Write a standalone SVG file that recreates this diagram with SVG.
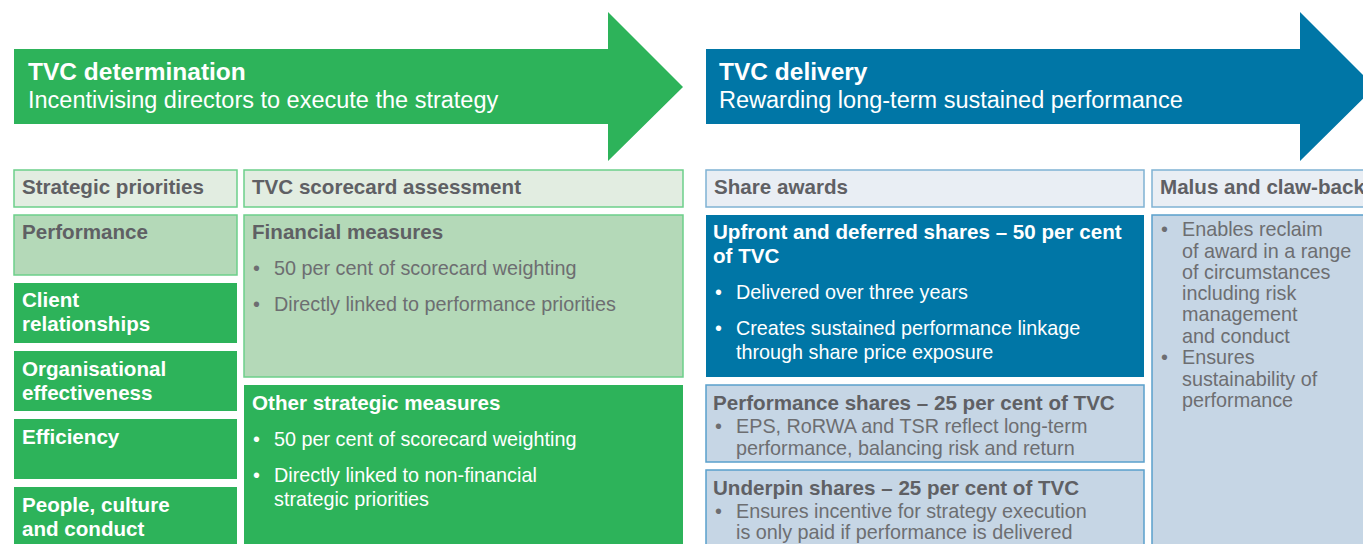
<svg xmlns="http://www.w3.org/2000/svg" width="1363" height="544" viewBox="0 0 1363 544">
<style>
.g{fill:#2db35a}
.gl{fill:#b4d9b8;stroke:#6ccf8a;stroke-width:1.5}
.gh{fill:#e2ede1;stroke:#6ccf8a;stroke-width:1.5}
.bh{fill:#e9eef4;stroke:#7fb2d3;stroke-width:1.5}
.bl{fill:#c6d6e5;stroke:#5aa0cc;stroke-width:1.5}
.b{fill:#0076a6}
text{font-family:"Liberation Sans",Arial,sans-serif}
.t1{font-size:24.5px;font-weight:bold;fill:#fff}
.t2{font-size:23.5px;fill:#fff}
.hd{font-size:20.6px;font-weight:bold;fill:#5f6064}
.hw{font-size:20.6px;font-weight:bold;fill:#fff}
.bd{font-size:19.8px;fill:#6d6e71}
.bw{font-size:19.8px;fill:#fff}
</style>
<rect width="1363" height="544" fill="#fff"/>
<g id="arrow-determination">
<polygon class="g" points="14,49 608,49 608,12 683,87 608,161 608,124 14,124"/>
<text class="t1" x="28" y="80">TVC determination</text>
<text class="t2" x="28" y="108">Incentivising directors to execute the strategy</text>
</g>
<g id="arrow-delivery">
<polygon class="b" points="706,49 1300,49 1300,12 1375,87 1300,161 1300,124 706,124"/>
<text class="t1" x="719" y="80">TVC delivery</text>
<text class="t2" x="719" y="108">Rewarding long-term sustained performance</text>
</g>
<g id="hdr-strategic">
<rect class="gh" x="14" y="170" width="223" height="37"/>
<text class="hd" x="22" y="194">Strategic priorities</text>
</g>
<g id="hdr-scorecard">
<rect class="gh" x="244" y="170" width="439" height="37"/>
<text class="hd" x="252" y="194">TVC scorecard assessment</text>
</g>
<g id="hdr-share">
<rect class="bh" x="706" y="170" width="438" height="37"/>
<text class="hd" x="714" y="194">Share awards</text>
</g>
<g id="hdr-malus">
<rect class="bh" x="1152" y="170" width="220" height="37"/>
<text class="hd" x="1160" y="194">Malus and claw-back</text>
</g>
<g id="performance">
<rect class="gl" x="14" y="215" width="223" height="60"/>
<text class="hd" x="22" y="239">Performance</text>
</g>
<g id="client">
<rect class="g" x="14" y="283" width="223" height="60"/>
<text class="hw" x="22" y="307">Client</text>
<text class="hw" x="22" y="331">relationships</text>
</g>
<g id="organisational">
<rect class="g" x="14" y="351" width="223" height="60"/>
<text class="hw" x="22" y="376">Organisational</text>
<text class="hw" x="22" y="400">effectiveness</text>
</g>
<g id="efficiency">
<rect class="g" x="14" y="419" width="223" height="60"/>
<text class="hw" x="22" y="444">Efficiency</text>
</g>
<g id="people">
<rect class="g" x="14" y="487" width="223" height="70"/>
<text class="hw" x="22" y="512">People, culture</text>
<text class="hw" x="22" y="536">and conduct</text>
</g>
<g id="financial">
<rect class="gl" x="244" y="215" width="439" height="162"/>
<text class="hd" x="252" y="239">Financial measures</text>
<text class="bd" x="253" y="275">•</text>
<text class="bd" x="274" y="275">50 per cent of scorecard weighting</text>
<text class="bd" x="253" y="311">•</text>
<text class="bd" x="274" y="311">Directly linked to performance priorities</text>
</g>
<g id="other">
<rect class="g" x="244" y="385" width="439" height="170"/>
<text class="hw" x="252" y="410">Other strategic measures</text>
<text class="bw" x="253" y="446">•</text>
<text class="bw" x="274" y="446">50 per cent of scorecard weighting</text>
<text class="bw" x="253" y="482">•</text>
<text class="bw" x="274" y="482">Directly linked to non-financial</text>
<text class="bw" x="274" y="506">strategic priorities</text>
</g>
<g id="upfront">
<rect class="b" x="706" y="215" width="438" height="162"/>
<text class="hw" x="713" y="239">Upfront and deferred shares – 50 per cent</text>
<text class="hw" x="713" y="263">of TVC</text>
<text class="bw" x="715" y="299">•</text>
<text class="bw" x="736" y="299">Delivered over three years</text>
<text class="bw" x="715" y="335">•</text>
<text class="bw" x="736" y="335">Creates sustained performance linkage</text>
<text class="bw" x="736" y="359">through share price exposure</text>
</g>
<g id="performance-shares">
<rect class="bl" x="706" y="385" width="438" height="77"/>
<text class="hd" x="713" y="410">Performance shares – 25 per cent of TVC</text>
<text class="bd" x="715" y="433">•</text>
<text class="bd" x="736" y="433">EPS, RoRWA and TSR reflect long-term</text>
<text class="bd" x="736" y="455">performance, balancing risk and return</text>
</g>
<g id="underpin-shares">
<rect class="bl" x="706" y="470" width="438" height="90"/>
<text class="hd" x="713" y="495">Underpin shares – 25 per cent of TVC</text>
<text class="bd" x="715" y="518">•</text>
<text class="bd" x="736" y="518">Ensures incentive for strategy execution</text>
<text class="bd" x="736" y="539">is only paid if performance is delivered</text>
</g>
<g id="malus">
<rect class="bl" x="1152" y="215" width="220" height="345"/>
<text class="bd" x="1161" y="236">•</text>
<text class="bd" x="1182" y="236">Enables reclaim</text>
<text class="bd" x="1182" y="258">of award in a range</text>
<text class="bd" x="1182" y="279">of circumstances</text>
<text class="bd" x="1182" y="300">including risk</text>
<text class="bd" x="1182" y="321">management</text>
<text class="bd" x="1182" y="343">and conduct</text>
<text class="bd" x="1161" y="364">•</text>
<text class="bd" x="1182" y="364">Ensures</text>
<text class="bd" x="1182" y="386">sustainability of</text>
<text class="bd" x="1182" y="407">performance</text>
</g>
<g id="connectors"></g>
</svg>
